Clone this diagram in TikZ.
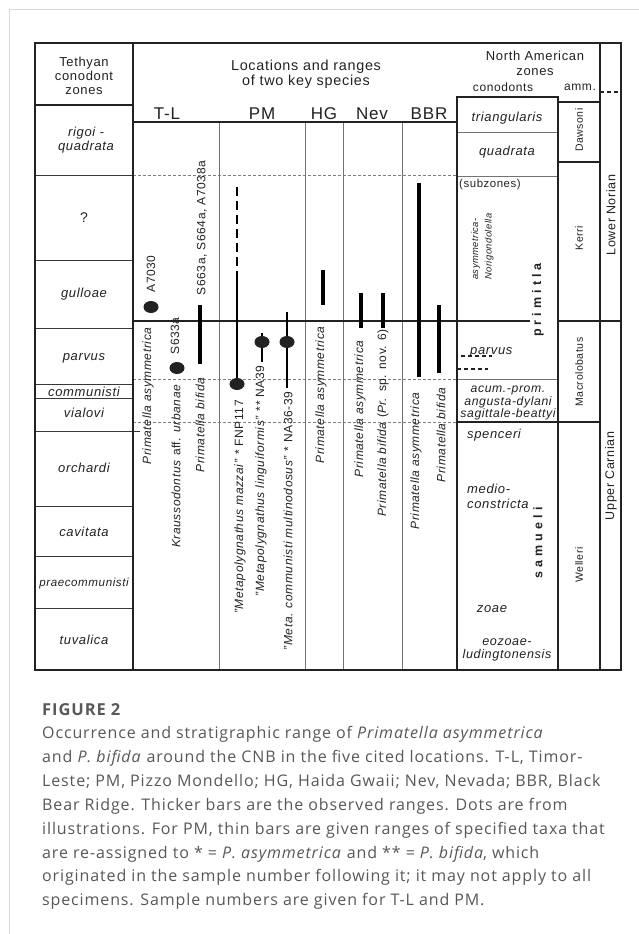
\documentclass[tikz,border=0pt]{standalone}
\usepackage{fontspec}
\usetikzlibrary{shapes.geometric}
\setmainfont{Liberation Sans}[LetterSpace=5]
\newfontfamily\capfont{Open Sans}[LetterSpace=5.5]
\definecolor{ink}{HTML}{222222}
\definecolor{capgray}{HTML}{585858}
\begin{document}
\begin{tikzpicture}[x=1pt,y=-1pt,
  ln/.style={draw=ink,line width=1.2pt},
  tl/.style={draw=ink!90,line width=0.7pt},
  gl/.style={draw=black!55,line width=0.7pt},
  gdash/.style={draw=black!50,line width=0.6pt,dash pattern=on 3pt off 2pt},
  kdash/.style={draw=ink,line width=1.1pt,dash pattern=on 4pt off 3pt},
  thickbar/.style={draw=black,line width=3.6pt},
  thinbar/.style={draw=black,line width=1.1pt},
  dotn/.style={ellipse,fill=ink,minimum width=15pt,minimum height=12pt,inner sep=0pt},
  t/.style={inner sep=0pt,text=ink,font=\fontsize{13}{14}\selectfont},
  zone/.style={t,font=\fontsize{13}{14}\selectfont\itshape},
  colh/.style={t,font=\fontsize{17}{19}\selectfont},
  vt/.style={t,rotate=90,font=\fontsize{12}{13}\selectfont},
  vti/.style={t,rotate=90,font=\fontsize{12}{13}\selectfont\itshape},
  amm/.style={t,rotate=90,font=\fontsize{10.5}{12}\selectfont},
  naz/.style={t,font=\fontsize{13}{14}\selectfont\itshape},
  nas/.style={t,font=\fontsize{12.2}{12.6}\selectfont\itshape},
  big/.style={t,rotate=90,font=\fontsize{12.5}{14}\selectfont\bfseries},
  captxt/.style={inner sep=0pt,anchor=base west,text=capgray,font=\capfont\fontsize{16}{18}\selectfont}
]
\useasboundingbox (0,0) rectangle (639,934);
\fill[white] (0,0) rectangle (639,934);
\draw[black!15,line width=1pt] (9,934) -- (9,10) -- (639,10);

% ---------- table lines ----------
\draw[gdash] (133,175) -- (457,175);
\draw[gdash] (133,379) -- (457,379);
\draw[gdash] (133,422) -- (457,422);
\foreach \xx in {219,305,343,402} \draw[gl] (\xx,122) -- (\xx,670);
\foreach \yy in {175,260,328,384,398,506,556,608} \draw[tl] (35,\yy) -- (133,\yy);
\draw[tl] (35,431) -- (140,431);
\draw[gl] (457,132) -- (558,132);
\draw[gl] (457,176) -- (558,176);
\draw[gl] (457,379) -- (558,379);
\draw[ln] (35,43) rectangle (621,670);
\draw[ln] (133,43) -- (133,670);
\draw[ln] (35,105) -- (133,105);
\draw[ln] (133,122) -- (457,122);
\draw[ln] (457,670) -- (457,97) -- (558,97) -- (558,670);
\draw[ln] (558,102) -- (600,102);
\draw[ln] (600,43) -- (600,670);
\draw[kdash] (600,92) -- (621,92);
\draw[ln] (558,162) -- (600,162);
\draw[ln] (457,422) -- (600,422);
\draw[ln] (133,321) -- (530,321);
\draw[ln] (557,321) -- (621,321);
\draw[kdash] (461,356) -- (492,356);
\draw[kdash] (457,369) -- (488,369);

% ---------- headers ----------
\node[t,align=center] (teth) at (84,76) {Tethyan\\conodont\\zones};
\node[t,align=center,font=\fontsize{14.4}{15}\selectfont] (loc) at (306,74) {Locations and ranges\\of two key species};
\node[t,align=center,font=\fontsize{13}{15}\selectfont] (nam) at (535,63) {North American\\zones};
\node[t,font=\fontsize{12}{13}\selectfont] (cono) at (503,87) {conodonts};
\node[t,font=\fontsize{12}{13}\selectfont] (ammh) at (580,87) {amm.};
\node[colh] (htl) at (167,114) {T-L};
\node[colh] (hpm) at (262,114) {PM};
\node[colh] (hhg) at (324,114) {HG};
\node[colh] (hnev) at (372,114) {Nev};
\node[colh] (hbbr) at (429,114) {BBR};

% ---------- Tethyan zones ----------
\node[zone,align=center,font=\fontsize{13}{14.5}\selectfont\itshape] (zr) at (86,140) {rigoi -\\quadrata};
\node[t,font=\fontsize{14}{15}\selectfont] (zq) at (84,218) {?};
\node[zone] (zg) at (84,294) {gulloae};
\node[zone] (zp) at (84,358) {parvus};
\node[zone] (zc) at (84,392) {communisti};
\node[zone] (zv) at (84,413) {vialovi};
\node[zone] (zo) at (84,468) {orchardi};
\node[zone] (zca) at (84,532) {cavitata};
\node[zone,font=\fontsize{11.6}{12}\selectfont\itshape] (zpr) at (84,583) {praecommunisti};
\node[zone] (ztu) at (84,640) {tuvalica};

% ---------- T-L ----------
\node[vti] (tl1) at (148,396) {Primatella asymmetrica};
\node[vt] (tl2) at (176,466) {\textit{Kraussodontus} aff. \textit{urbanae}};
\node[vti] (tl3) at (200,425) {Primatella bifida};
\node[vt] (tla) at (151,274) {A7030};
\node[dotn] (tldot1) at (151,307) {};
\node[vt] (tls) at (175,336) {S633a};
\node[dotn] (tldot2) at (177,368) {};
\node[vt] (tlb) at (202,228) {S663a, S664a, A7038a};
\draw[thickbar] (200,305) -- (200,364);

% ---------- PM ----------
\draw[thinbar,dash pattern=on 9pt off 5pt] (237,187) -- (237,272);
\draw[thinbar] (237,272) -- (237,384);
\node[dotn] (pmdot1) at (237,384) {};
\draw[thinbar] (262,333) -- (262,362);
\node[dotn] (pmdot2) at (262,342) {};
\draw[thinbar] (287,312) -- (287,388);
\node[dotn] (pmdot3) at (287,342) {};
\node[vt] (pm1) at (240,507) {\textit{"Metapolygnathus mazzai"} * FNP117};
\node[vt] (pm2) at (261,481) {\textit{"Metapolygnathus linguiformis"} ** NA39};
\node[vt] (pm3) at (288,521) {\textit{"Meta. communisti multinodosus"} * NA36-39};

% ---------- HG ----------
\draw[thickbar] (323,270) -- (323,305);
\node[vti] (hg1) at (321,395) {Primatella asymmetrica};

% ---------- Nev ----------
\draw[thickbar] (361,293) -- (361,328);
\draw[thickbar] (383,293) -- (383,328);
\node[vti] (nv1) at (360,409) {Primatella asymmetrica};
\node[vt] (nv2) at (383,423) {\textit{Primatella bifida} (\textit{Pr.} sp. nov. 6)};

% ---------- BBR ----------
\draw[thickbar] (419,183) -- (419,377);
\draw[thickbar] (439,305) -- (439,373);
\node[vti] (bb1) at (416,461) {Primatella asymmetrica};
\node[vti] (bb2) at (441,435) {Primatella bifida};

% ---------- North American conodont zones ----------
\node[naz] (ntri) at (507,118) {triangularis};
\node[naz] (nquad) at (507,152) {quadrata};
\node[t,anchor=west,font=\fontsize{11.4}{12}\selectfont] (nsub) at (459,185) {(subzones)};
\node[t,rotate=90,anchor=north west,align=left,font=\fontsize{9.4}{13.5}\selectfont\itshape] (nasy) at (471,280) {asymmetrica-\\Norigondolella};
\node[big] (nprim) at (538,300) {p r i m i t l a};
\node[naz,anchor=west] (npar) at (470,352) {parvus};
\node[nas,align=center] (nacum) at (508,403) {acum.-prom.\\angusta-dylani\\sagittale-beattyi};
\node[naz,anchor=west] (nspe) at (467,435) {spenceri};
\node[naz,anchor=west,align=left,font=\fontsize{13}{15}\selectfont\itshape] (nmed) at (467,496) {medio-\\constricta};
\node[big] (nsam) at (538,543) {s a m u e l i};
\node[naz] (nzoae) at (492,609) {zoae};
\node[naz,align=center,font=\fontsize{12.6}{13.5}\selectfont\itshape] (neoz) at (507,650) {eozoae-\\ludingtonensis};

% ---------- ammonoid zones ----------
\node[amm] (adaw) at (579,130) {Dawsoni};
\node[amm] (aker) at (579,238) {Kerri};
\node[amm] (amac) at (579,372) {Macrolobatus};
\node[amm] (awel) at (579,565) {Welleri};
\node[t,rotate=90,font=\fontsize{12.5}{14}\selectfont] (slow) at (611,215) {Lower Norian};
\node[t,rotate=90,font=\fontsize{12.5}{14}\selectfont] (supp) at (611,476) {Upper Carnian};

% ---------- caption ----------
\node[captxt,font=\capfont\bfseries\fontsize{16.5}{18}\selectfont,text=black!65] (cfig) at (42,715) {FIGURE 2};
\node[captxt] (c1) at (42,738.5) {Occurrence and stratigraphic range of \textit{Primatella asymmetrica}};
\node[captxt] (c2) at (42,762.4) {and \textit{P. bifida} around the CNB in the five cited locations. T-L, Timor-};
\node[captxt] (c3) at (42,786.3) {Leste; PM, Pizzo Mondello; HG, Haida Gwaii; Nev, Nevada; BBR, Black};
\node[captxt] (c4) at (42,810.2) {Bear Ridge. Thicker bars are the observed ranges. Dots are from};
\node[captxt] (c5) at (42,834.1) {illustrations. For PM, thin bars are given ranges of specified taxa that};
\node[captxt] (c6) at (42,858) {are re-assigned to * = \textit{P. asymmetrica} and ** = \textit{P. bifida}, which};
\node[captxt] (c7) at (42,881.9) {originated in the sample number following it; it may not apply to all};
\node[captxt] (c8) at (42,905.8) {specimens. Sample numbers are given for T-L and PM.};
\end{tikzpicture}
\end{document}
